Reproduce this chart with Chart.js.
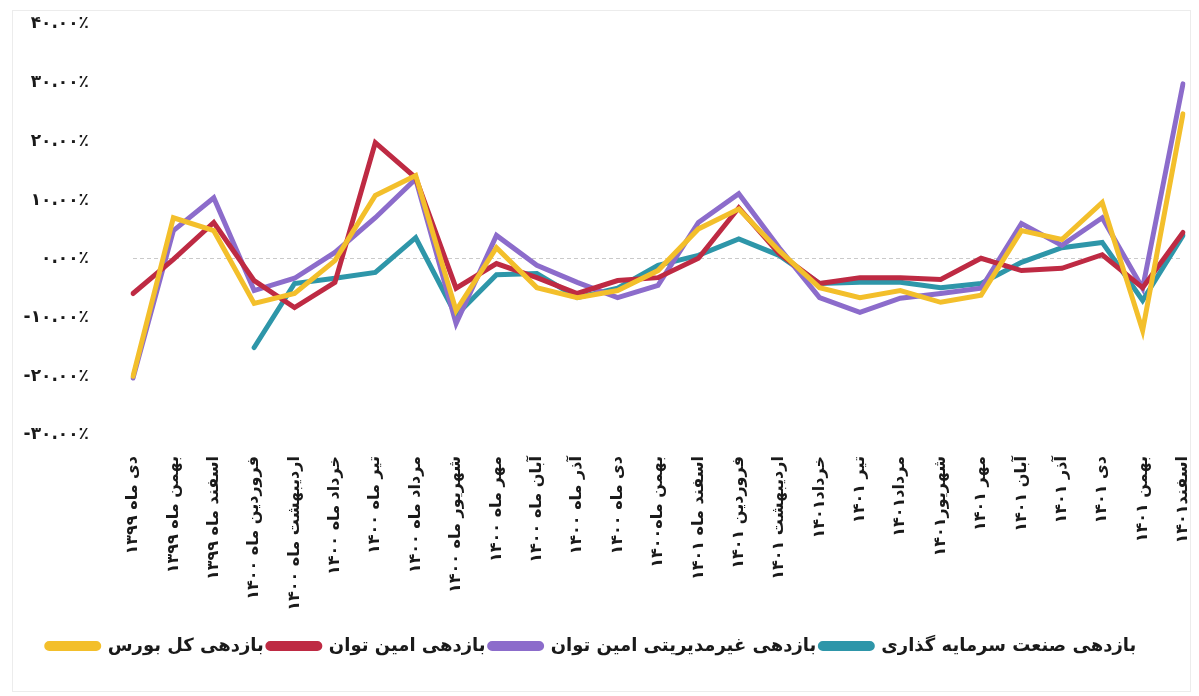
<!DOCTYPE html>
<html lang="fa">
<head>
<meta charset="utf-8">
<script src="https://cdn.jsdelivr.net/npm/chart.js@4.4.0/dist/chart.umd.min.js"></script>
<style>
  html, body { margin: 0; padding: 0; background: #ffffff; }
  #wrap { position: relative; width: 1199px; height: 696px; }
  #frame { position: absolute; left: 12px; top: 10px; right: 8px; bottom: 4px; border: 1px solid #ececec; pointer-events: none; }
  canvas { display: block; }
</style>
</head>
<body>
<div id="wrap">
  <div id="frame"></div>
  <canvas id="c" width="1199" height="696"></canvas>
</div>
<script>
// ---- categories (months) ----
const categories = [
  "دی ماه ۱۳۹۹", "بهمن ماه ۱۳۹۹", "اسفند ماه ۱۳۹۹", "فروردین ماه ۱۴۰۰",
  "اردیبهشت ماه ۱۴۰۰", "خرداد ماه ۱۴۰۰", "تیر ماه ۱۴۰۰", "مرداد ماه ۱۴۰۰",
  "شهریور ماه ۱۴۰۰", "مهر ماه ۱۴۰۰", "آبان ماه ۱۴۰۰", "آذر ماه ۱۴۰۰",
  "دی ماه ۱۴۰۰", "بهمن ماه۱۴۰۰", "اسفند ماه ۱۴۰۱", "فروردین ۱۴۰۱",
  "اردیبهشت ۱۴۰۱", "خرداد۱۴۰۱", "تیر ۱۴۰۱", "مرداد۱۴۰۱",
  "شهریور۱۴۰۱", "مهر ۱۴۰۱", "آبان ۱۴۰۱", "آذر ۱۴۰۱",
  "دی ۱۴۰۱", "بهمن ۱۴۰۱", "اسفند۱۴۰۱"
];

// ---- series (percent) ----
const kolBours = [-20.0, 7.0, 4.8, -7.6, -5.9, -0.3, 10.8, 14.2, -8.8, 1.9, -4.9, -6.6, -5.4, -2.0, 5.1, 8.5, 1.4, -4.9, -6.6, -5.4, -7.4, -6.2, 4.8, 3.3, 9.6, -12.2, 24.7];
const aminTavan = [-5.9, -0.1, 6.2, -3.7, -8.3, -4.0, 19.8, 13.8, -5.0, -0.8, -3.2, -5.9, -3.7, -3.2, 0.1, 8.7, 0.9, -4.2, -3.2, -3.2, -3.5, 0.1, -2.0, -1.6, 0.7, -4.9, 4.5];
const gheirModiriyati = [-20.3, 4.8, 10.4, -5.4, -3.3, 1.1, 7.0, 13.6, -11.0, 4.0, -1.1, -4.0, -6.6, -4.5, 6.2, 11.1, 1.9, -6.6, -9.1, -6.7, -5.9, -5.0, 6.0, 2.3, 7.0, -5.0, 29.8];
const sanatSarmaye = [null, null, null, -15.1, -4.2, -3.3, -2.3, 3.6, -9.6, -2.7, -2.5, -6.6, -5.0, -1.1, 0.6, 3.4, 0.6, -4.2, -4.0, -4.0, -4.9, -4.2, -0.6, 1.9, 2.8, -7.1, 4.0];

// ---- series names ----
const seriesNames = ["بازدهی کل بورس", "بازدهی امین توان", "بازدهی غیرمدیریتی امین توان", "بازدهی صنعت سرمایه گذاری"];

// ---- y tick values and labels ----
const yTickValues = [-30, -20, -10, 0, 10, 20, 30, 40];
const yTickLabels = ["-۳۰.۰۰٪", "-۲۰.۰۰٪", "-۱۰.۰۰٪", "۰.۰۰٪", "۱۰.۰۰٪", "۲۰.۰۰٪", "۳۰.۰۰٪", "۴۰.۰۰٪"];

const colors = ["#F3BF2B", "#BE2A43", "#8C6CCB", "#2E96A9"];
const FONT = "'DejaVu Sans', 'Noto Sans', sans-serif";

const seriesData = [kolBours, aminTavan, gheirModiriyati, sanatSarmaye];

new Chart(document.getElementById('c'), {
  type: 'line',
  data: {
    labels: categories,
    datasets: seriesData.map((d, i) => ({
      label: seriesNames[i],
      data: d,
      borderColor: colors[i],
      backgroundColor: colors[i],
      borderWidth: 5,
      pointRadius: 0,
      pointHoverRadius: 0,
      tension: 0,
      spanGaps: false,
      borderCapStyle: 'round',
      borderJoinStyle: 'miter'
    }))
  },
  options: {
    responsive: false,
    animation: false,
    layout: { padding: { left: 0, right: 16, top: 24, bottom: 31 } },
    plugins: {
      tooltip: { enabled: false },
      legend: {
        position: 'bottom',
        labels: {
          boxWidth: 52,
          boxHeight: 5,
          padding: 4,
          useBorderRadius: true,
          borderRadius: 2.5,
          color: '#1a1a1a',
          font: { family: FONT, size: 18, weight: 'bold' }
        }
      }
    },
    scales: {
      x: {
        afterFit: (s) => { s.height = 198; s.paddingLeft = 0; s.paddingRight = 0; },
        grid: { display: false, drawTicks: false },
        border: { display: false },
        ticks: {
          autoSkip: false,
          maxRotation: 90,
          minRotation: 90,
          padding: 21,
          color: '#1a1a1a',
          font: { family: FONT, size: 16, weight: 'bold' }
        }
      },
      y: {
        min: -30,
        max: 40,
        afterFit: (s) => { s.width = 133; s.paddingTop = 4; s.paddingBottom = 4; },
        afterBuildTicks: (s) => { s.ticks = yTickValues.map(v => ({ value: v })); },
        grid: {
          drawTicks: false,
          color: (ctx) => (ctx.tick && ctx.tick.value === 0) ? 'rgba(180,180,180,0.7)' : 'rgba(0,0,0,0)',
          lineWidth: 1
        },
        border: { display: false, dash: [4, 3] },
        ticks: {
          padding: 44,
          color: '#1a1a1a',
          font: { family: FONT, size: 17, weight: 'bold' },
          callback: (v) => {
            const i = yTickValues.indexOf(v);
            return i >= 0 ? yTickLabels[i] : '';
          }
        }
      }
    }
  }
});
</script>
</body>
</html>
